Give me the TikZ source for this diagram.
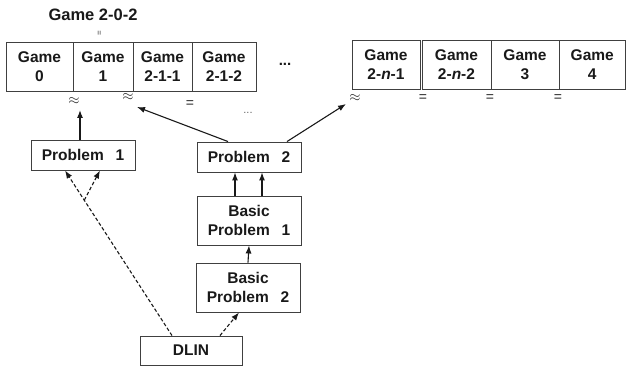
\documentclass[tikz,border=0pt]{standalone}
\usepackage{fontspec}
\setmainfont{Liberation Sans}
\usetikzlibrary{arrows.meta,calc}
\begin{document}
\begin{tikzpicture}[x=1pt,y=-1pt,
  box/.style={draw=black!75, line width=0.9pt, inner sep=0pt, align=center,
    text=black!90, font=\fontsize{15.5}{18.5}\selectfont\bfseries},
  arr/.style={-{Latex[length=8pt,width=6pt]}, line width=1.1pt, draw=black!90},
  darr/.style={arr, dash pattern=on 3.5pt off 2.2pt},
  sym/.style={inner sep=0pt, text=black!85},
  eqs/.style={sym, font=\fontsize{14}{14}\selectfont},
  apx/.style={sym, font=\fontsize{15}{15}\selectfont}
]
\useasboundingbox (0,0) rectangle (626,366);

% title
\node[sym, text=black!90, font=\fontsize{16.5}{18}\selectfont\bfseries] (title) at (93,15) {Game 2-0-2};
\node[sym, font=\fontsize{8}{8}\selectfont, rotate=90] (topeq) at (100,33) {=};

% top row, left group
\node[box, minimum width=67pt, minimum height=49pt] (g0) at (39.5,66.5) {Game\\0};
\node[box, minimum width=60pt, minimum height=49pt] (g1) at (103,66.5) {Game\\1};
\node[box, minimum width=59pt, minimum height=49pt] (g211) at (162.5,66.5) {Game\\2-1-1};
\node[box, minimum width=64pt, minimum height=49pt] (g212) at (224,66.5) {Game\\2-1-2};
\node[sym, text=black!90, font=\fontsize{15}{15}\selectfont\bfseries] (dots1) at (285,64) {...};

% top row, right group
\node[box, minimum width=68pt, minimum height=49pt] (gn1) at (386,64.5) {Game\\2-\textit{n}-1};
\node[box, minimum width=69pt, minimum height=49pt] (gn2) at (456.5,64.5) {Game\\2-\textit{n}-2};
\node[box, minimum width=68pt, minimum height=49pt] (g3) at (525,64.5) {Game\\3};
\node[box, minimum width=66.5pt, minimum height=49pt] (g4) at (592.25,64.5) {Game\\4};

% relation symbols under the row
\node[apx] (ap0) at (74,101) {$\approx$};
\node[apx] (ap1) at (128,97) {$\approx$};
\node[eqs] (eq1) at (190,104) {=};
\node[sym, font=\fontsize{11}{11}\selectfont, text=black!60] (dots2) at (248,113) {...};
\node[apx] (ap2) at (355,98) {$\approx$};
\node[eqs] (eq2) at (423,98) {=};
\node[eqs] (eq3) at (490,98) {=};
\node[eqs] (eq4) at (558,98) {=};

\coordinate (t0) at (80,110);
\coordinate (t1) at (137,107);
\coordinate (t2) at (346,104);

% problem boxes
\node[box, minimum width=104pt, minimum height=30pt] (p1) at (83,155) {Problem\hspace{0.75em}1};
\node[box, minimum width=104pt, minimum height=30pt] (p2) at (249,157) {Problem\hspace{0.75em}2};
\node[box, minimum width=104pt, minimum height=49pt] (bp1) at (249,220.5) {Basic\\Problem\hspace{0.75em}1};
\node[box, minimum width=104pt, minimum height=49pt] (bp2) at (248,287.5) {Basic\\Problem\hspace{0.75em}2};
\node[box, minimum width=102pt, minimum height=29pt] (dlin) at (191,350.5) {DLIN};

% solid arrows
\draw[arr] ([xshift=-3pt]p1.north) -- (t0);
\draw[arr] ([xshift=-21pt]p2.north) -- (t1);
\draw[arr] ([xshift=38pt]p2.north) -- (t2);
\draw[arr] ([xshift=-14pt]bp1.north) -- ([xshift=-14pt]p2.south);
\draw[arr] ([xshift=13pt]bp1.north) -- ([xshift=13pt]p2.south);
\draw[arr] (bp2.north) -- (bp1.south);

% dashed arrows
\coordinate (da) at ([xshift=-19pt]dlin.north);
\coordinate (pa) at ([xshift=-18pt]p1.south);
\coordinate (br) at ($(da)!0.82!(pa)$);
\draw[darr] (da) -- (pa);
\draw[darr] (br) -- ([xshift=17pt]p1.south);
\draw[darr] ([xshift=29pt]dlin.north) -- ([xshift=-9pt]bp2.south);
\end{tikzpicture}
\end{document}
